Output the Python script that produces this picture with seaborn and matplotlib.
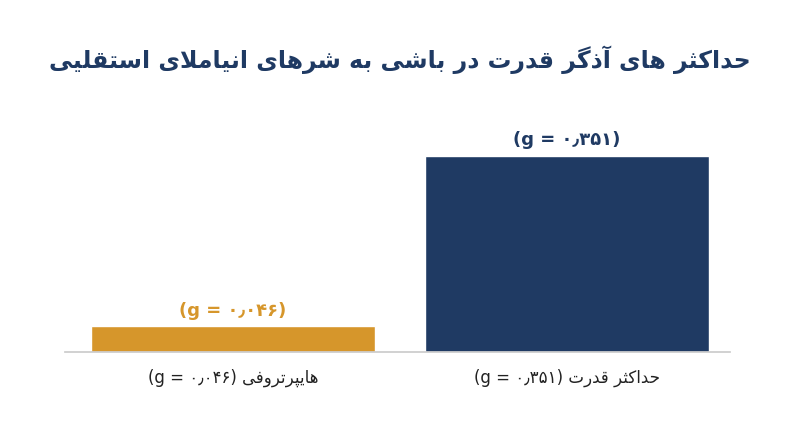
import matplotlib
matplotlib.use("Agg")
import matplotlib.pyplot as plt
import seaborn as sns
import pandas as pd

# ---- minimal Persian shaping (presentation forms) ----
FORMS = {
    'ا': ('\uFE8D', '\uFE8E', None, None), 'آ': ('\uFE81', '\uFE82', None, None),
    'ب': ('\uFE8F', '\uFE90', '\uFE91', '\uFE92'), 'پ': ('\uFB56', '\uFB57', '\uFB58', '\uFB59'),
    'ت': ('\uFE95', '\uFE96', '\uFE97', '\uFE98'), 'ث': ('\uFE99', '\uFE9A', '\uFE9B', '\uFE9C'),
    'ح': ('\uFEA1', '\uFEA2', '\uFEA3', '\uFEA4'), 'د': ('\uFEA9', '\uFEAA', None, None),
    'ذ': ('\uFEAB', '\uFEAC', None, None), 'ر': ('\uFEAD', '\uFEAE', None, None),
    'س': ('\uFEB1', '\uFEB2', '\uFEB3', '\uFEB4'), 'ش': ('\uFEB5', '\uFEB6', '\uFEB7', '\uFEB8'),
    'ف': ('\uFED1', '\uFED2', '\uFED3', '\uFED4'), 'ق': ('\uFED5', '\uFED6', '\uFED7', '\uFED8'),
    'ک': ('\uFB8E', '\uFB8F', '\uFB90', '\uFB91'), 'گ': ('\uFB92', '\uFB93', '\uFB94', '\uFB95'),
    'ل': ('\uFEDD', '\uFEDE', '\uFEDF', '\uFEE0'), 'م': ('\uFEE1', '\uFEE2', '\uFEE3', '\uFEE4'),
    'ن': ('\uFEE5', '\uFEE6', '\uFEE7', '\uFEE8'), 'ه': ('\uFEE9', '\uFEEA', '\uFEEB', '\uFEEC'),
    'و': ('\uFEED', '\uFEEE', None, None), 'ی': ('\uFBFC', '\uFBFD', '\uFBFE', '\uFBFF'),
}

def shape(s):
    chars = list(s)
    # lam-alef ligature
    merged = []
    i = 0
    while i < len(chars):
        if chars[i] == 'ل' and i + 1 < len(chars) and chars[i + 1] == 'ا':
            merged.append('LA'); i += 2
        else:
            merged.append(chars[i]); i += 1
    def joins_next(c):
        return c in FORMS and FORMS[c][2] is not None
    out = []
    for k, c in enumerate(merged):
        prev = merged[k - 1] if k > 0 else None
        nxt = merged[k + 1] if k + 1 < len(merged) else None
        pj = prev is not None and joins_next(prev)
        if c == 'LA':
            out.append('\uFEFC' if pj else '\uFEFB'); continue
        if c not in FORMS:
            out.append(c); continue
        f = FORMS[c]
        nj = nxt is not None and (nxt in FORMS or nxt == 'LA') and f[2] is not None
        if pj and nj: out.append(f[3])
        elif pj: out.append(f[1])
        elif nj: out.append(f[2])
        else: out.append(f[0])
    return ''.join(reversed(out))

# ---- data ----
title = "حداکثر های آذگر قدرت در باشی به شرهای انیاملای استقلیی"
categories = ["هایپرتروفی", "حداکثر قدرت"]
values = [0.046, 0.351]
value_labels = ["(g = ۰٫۰۴۶)", "(g = ۰٫۳۵۱)"]
colors = ["#d6962b", "#1f3a63"]

df = pd.DataFrame({"cat": categories, "val": values})

sns.set_theme(style="white")
plt.rcParams['font.family'] = ['DejaVu Sans']

fig = plt.figure(figsize=(8, 4.47), dpi=100)
ax = fig.add_axes([65 / 800, 1 - 352 / 447, 665 / 800, 235 / 447])
sns.barplot(data=df, x="cat", y="val", hue="cat", palette=colors, width=0.85,
            legend=False, ax=ax, saturation=1)
ax.set_ylim(0, 0.42)
ax.set_xlim(-0.503, 1.488)
for s in ["top", "right", "left"]:
    ax.spines[s].set_visible(False)
ax.spines["bottom"].set_color("#cccccc")
ax.set_yticks([])
ax.set_xlabel(""); ax.set_ylabel("")
ax.set_xticks([0, 1])
ax.set_xticklabels([f"{v} {shape(c)}" for v, c in zip(value_labels, categories)],
                   fontsize=12, color="#222222")
ax.tick_params(axis="x", length=0, pad=12)
for i, (v, lab) in enumerate(zip(values, value_labels)):
    ax.text(i, v + 0.012, lab, ha="center", va="bottom", fontsize=13,
            fontweight="bold", color=colors[i])
fig.text(0.5, 1 - 60 / 447, shape(title), ha="center", va="center",
         fontsize=17, fontweight="bold", color="#1f3a63")
fig.savefig("out.png", dpi=100)
